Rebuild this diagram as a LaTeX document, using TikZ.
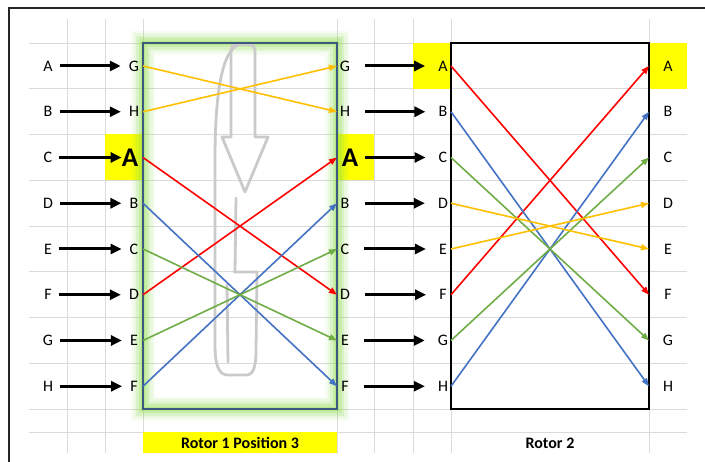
\documentclass[tikz,border=0pt]{standalone}
\usepackage{fontspec}
\setmainfont{Carlito}
\usetikzlibrary{arrows.meta}
\definecolor{xorange}{HTML}{FFC000}
\definecolor{xred}{HTML}{FF0000}
\definecolor{xblue}{HTML}{4472C4}
\definecolor{xgreen}{HTML}{70AD47}
\definecolor{gridc}{HTML}{DADADA}
\definecolor{rotorone}{HTML}{3D5A7E}
\definecolor{glowc}{HTML}{92DC55}
\definecolor{wmark}{HTML}{CACACA}
\definecolor{cellyellow}{HTML}{FFFF00}
\begin{document}
\begin{tikzpicture}[x=1pt,y=-1pt,
  letter/.style={inner sep=0pt, font=\fontsize{16}{19}\selectfont},
  bigletter/.style={inner sep=0pt, font=\fontsize{27}{31}\selectfont\bfseries},
  caption/.style={inner sep=0pt, font=\fontsize{16}{19}\selectfont\bfseries},
  feed/.style={line width=3pt, -{Triangle[length=11pt,width=10pt]}},
  wire/.style={line width=1.6pt, -{Triangle[length=8pt,width=6pt]}},
  gridline/.style={gridc, line width=0.9pt},
  cell/.style={fill=cellyellow},
  wm/.style={wmark, line width=2.8pt, line join=round, line cap=round},
  rotorbox/.style={line width=1.8pt}]
\useasboundingbox (0,0) rectangle (705,462);
\fill[white] (0,0) rectangle (705,462);
% outer frame
\draw[line width=2.2pt, black!85] (705,8) -- (9,8) -- (9,462);
% grid
\foreach \x in {67,105,143,337,374,413,451,649}
  \draw[gridline] (\x,19) -- (\x,453);
\foreach \y in {43,88.75,134.5,180.25,226,271.75,317.5,363.25,409,432}
  \draw[gridline] (29,\y) -- (687,\y);
% yellow cells
\fill[cell] (105,134.5) rectangle (143,180.25);
\fill[cell] (337,134.5) rectangle (374,180.25);
\fill[cell] (413,43) rectangle (451,88.75);
\fill[cell] (649,43) rectangle (687,88.75);
% glow around rotor 1
\foreach \w/\o in {24/0.08,19/0.12,14/0.17,9/0.25,4/0.35}
  \draw[glowc, line width=\w pt, opacity=\o] (143,43) rectangle (337,409);
% watermark rotation arrow
\draw[wm] (231,50) -- (231,137) -- (222,137) -- (245,192) -- (268,137) -- (255,137) -- (255,50);
\draw[wm] (231,50) .. controls (231,45) and (236,44) .. (243,44) .. controls (250,44) and (255,45) .. (255,50);
\draw[wm] (243,44) .. controls (225,44) and (215,80) .. (215,160) -- (215,345)
  .. controls (215,368) and (220,375) .. (228,375) -- (246,375)
  .. controls (253,375) and (256,368) .. (256,350) -- (257,272) -- (234,272);
\draw[wm] (236,198) -- (235,272);
\draw[wm] (227,285) -- (228,362);
% rotor boxes
\draw[rotorbox, rotorone] (143,43) rectangle (337,409);
\draw[rotorbox, black] (451,43) rectangle (649,409);
% pin coordinates
\foreach \i/\y in {1/66,2/111.75,3/157.5,4/203.25,5/249,6/294.75,7/340.5,8/386.25}{
  \coordinate (aL\i) at (143,\y);
  \coordinate (aR\i) at (337,\y);
  \coordinate (bL\i) at (451,\y);
  \coordinate (bR\i) at (649,\y);
}
% letters
\foreach \i/\y/\t in {1/66/A,2/111.75/B,3/157.5/C,4/203.25/D,5/249/E,6/294.75/F,7/340.5/G,8/386.25/H}{
  \node[letter] (s\i) at (48,\y) {\t};
  \node[letter] (q\i) at (443,\y) {\t};
  \node[letter] (t\i) at (668,\y) {\t};
}
\foreach \i/\y/\t in {1/66/G,2/111.75/H,4/203.25/B,5/249/C,6/294.75/D,7/340.5/E,8/386.25/F}{
  \node[letter] (m\i) at (134,\y) {\t};
  \node[letter] (n\i) at (345,\y) {\t};
}
\node[bigletter] (m3) at (130,157.5) {A};
\node[bigletter] (n3) at (350,157.5) {A};
% feed arrows
\foreach \i in {1,2,4,5,6,7,8}{
  \draw[feed, shorten <=7pt, shorten >=8pt] (s\i) -- (m\i);
  \draw[feed, shorten <=15pt, shorten >=13pt] (n\i) -- (q\i);
}
\draw[feed, shorten <=7pt, shorten >=0pt] (s3) -- (m3);
\draw[feed, shorten <=7pt, shorten >=13pt] (n3) -- (q3);
% rotor 1 wiring
\draw[wire, xorange] (aL1) -- (aR2);
\draw[wire, xorange] (aL2) -- (aR1);
\draw[wire, xred] (aL3) -- (aR6);
\draw[wire, xred] (aL6) -- (aR3);
\draw[wire, xblue] (aL4) -- (aR8);
\draw[wire, xblue] (aL8) -- (aR4);
\draw[wire, xgreen] (aL5) -- (aR7);
\draw[wire, xgreen] (aL7) -- (aR5);
% rotor 2 wiring
\draw[wire, xred] (bL1) -- (bR6);
\draw[wire, xred] (bL6) -- (bR1);
\draw[wire, xblue] (bL2) -- (bR8);
\draw[wire, xblue] (bL8) -- (bR2);
\draw[wire, xgreen] (bL3) -- (bR7);
\draw[wire, xgreen] (bL7) -- (bR3);
\draw[wire, xorange] (bL4) -- (bR5);
\draw[wire, xorange] (bL5) -- (bR4);
% captions
\node[caption, fill=cellyellow, minimum width=194pt, minimum height=21pt] (cap1) at (240,442.5) {Rotor 1 Position 3};
\node[caption] (cap2) at (550,443) {Rotor 2};
\end{tikzpicture}
\end{document}
